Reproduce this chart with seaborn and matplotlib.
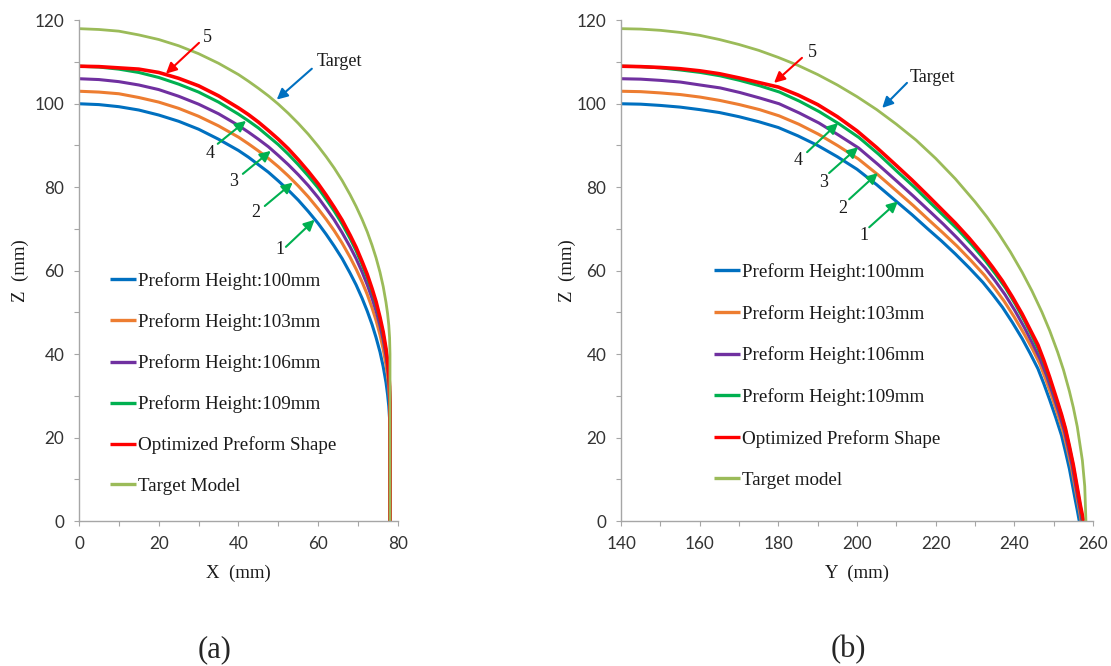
import numpy as np
import pandas as pd
import matplotlib
matplotlib.use("Agg")
import matplotlib.pyplot as plt
from matplotlib.ticker import MultipleLocator
import seaborn as sns

# ---------- panel (a): X-Z profile ----------
x_a = [0, 5, 10, 15, 20, 25, 30, 35, 40, 42.5, 45, 47.5, 50, 52.5, 55, 57.5, 60, 62, 64, 66,
       68, 69.5, 71, 72.3, 73.5, 74.5, 75.5, 76.3, 77, 77.4, 77.7, 77.9, 78, 78]
z_a_100 = [100.0, 99.8, 99.3, 98.5, 97.3, 95.8, 93.9, 91.5, 88.8, 87.2, 85.4, 83.6, 81.5, 79.3, 76.9, 74.2,
           71.3, 68.7, 65.9, 62.9, 59.4, 56.6, 53.4, 50.3, 47.1, 44.0, 40.5, 37.0, 33.2, 30.3, 27.5, 24.5, 20.5, 0]
z_a_103 = [103.0, 102.8, 102.4, 101.5, 100.4, 98.9, 97.0, 94.7, 92.0, 90.4, 88.7, 86.9, 84.9, 82.7, 80.3, 77.7,
           74.8, 72.3, 69.6, 66.6, 63.2, 60.4, 57.3, 54.3, 51.1, 48.1, 44.6, 41.2, 37.4, 34.7, 31.8, 29.0, 25.0, 0]
z_a_106 = [106.0, 105.8, 105.3, 104.5, 103.4, 101.8, 99.9, 97.6, 94.8, 93.2, 91.5, 89.7, 87.6, 85.4, 83.0, 80.4,
           77.5, 74.9, 72.2, 69.1, 65.7, 62.9, 59.7, 56.6, 53.4, 50.4, 46.8, 43.4, 39.6, 36.8, 33.9, 31.0, 27.0, 0]
z_a_109 = [109.0, 108.8, 108.3, 107.5, 106.3, 104.7, 102.8, 100.4, 97.5, 95.9, 94.2, 92.2, 90.2, 87.9, 85.4, 82.7,
           79.8, 77.1, 74.3, 71.2, 67.7, 64.8, 61.5, 58.4, 55.1, 52.0, 48.3, 44.8, 40.9, 38.0, 35.1, 32.1, 28.0, 0]
z_a_opt = [109.0, 108.9, 108.6, 108.3, 107.5, 106.1, 104.3, 101.9, 99.0, 97.4, 95.6, 93.6, 91.5, 89.2, 86.6, 83.8,
           80.8, 78.1, 75.2, 72.1, 68.5, 65.6, 62.2, 59.1, 55.7, 52.6, 48.8, 45.3, 41.3, 38.4, 35.4, 32.3, 28.5, 0]
z_a_target = [118.0, 117.8, 117.4, 116.5, 115.4, 113.9, 112.0, 109.7, 107.0, 105.4, 103.7, 101.9, 99.9, 97.7, 95.3, 92.7,
              89.8, 87.3, 84.6, 81.6, 78.2, 75.4, 72.3, 69.3, 66.1, 63.1, 59.6, 56.2, 52.4, 49.7, 46.9, 43.9, 40.0, 0]

# ---------- panel (b): Y-Z profile ----------
y_b_100 = [140, 145, 150, 155, 160, 165, 170, 175, 180, 185, 190, 195, 200, 205, 210, 214, 218, 221.5, 225,
           228.5, 232, 234.5, 237, 239.5, 242, 244, 246, 247.5, 249, 250.5, 252, 253, 254, 254.8, 255.5, 256, 256.5]
z_b_100 = [100.0, 99.9, 99.6, 99.2, 98.6, 97.9, 96.9, 95.7, 94.3, 92.3, 90.0, 87.3, 84.3, 80.6, 76.6, 73.4, 70.0,
           67.1, 64.0, 60.7, 57.2, 54.3, 51.2, 47.6, 43.7, 40.2, 36.5, 32.9, 29.0, 24.9, 20.5, 16.6, 12.5, 8.5, 5.0, 2.6, 0]
y_b_103 = [140, 145.0, 150.0, 155.1, 160.1, 165.1, 170.1, 175.2, 180.2, 185.2, 190.2, 195.2, 200.3, 205.3, 210.3,
           214.3, 218.3, 221.8, 225.4, 228.9, 232.4, 234.9, 237.4, 239.9, 242.4, 244.5, 246.5, 248.0, 249.5, 251.0,
           252.5, 253.5, 254.5, 255.3, 256.0, 256.5, 257.0]
z_b_103 = [103.0, 102.9, 102.6, 102.2, 101.6, 100.8, 99.8, 98.6, 97.1, 95.1, 92.7, 89.9, 86.8, 83.0, 78.9, 75.6,
           72.1, 69.1, 65.9, 62.5, 58.9, 55.9, 52.7, 49.0, 45.0, 41.4, 37.6, 33.9, 29.9, 25.6, 21.1, 17.1, 12.9, 8.8,
           5.2, 2.7, 0]
y_b_106 = [140, 145.0, 150.1, 155.1, 160.1, 165.2, 170.2, 175.2, 180.2, 185.3, 190.3, 195.3, 200.4, 205.4, 210.4,
           214.4, 218.5, 222.0, 225.5, 229.0, 232.6, 235.1, 237.6, 240.1, 242.6, 244.6, 246.6, 248.2, 249.7, 251.2,
           252.7, 253.7, 254.7, 255.5, 256.2, 256.7, 257.2]
z_b_106 = [106.0, 105.9, 105.6, 105.2, 104.5, 103.8, 102.7, 101.4, 100.0, 97.8, 95.4, 92.5, 89.4, 85.4, 81.2, 77.8,
           74.2, 71.1, 67.8, 64.3, 60.6, 57.6, 54.3, 50.5, 46.3, 42.6, 38.7, 34.9, 30.7, 26.4, 21.7, 17.6, 13.3, 9.0,
           5.3, 2.8, 0]
y_b_109 = [140, 145.0, 150.1, 155.1, 160.2, 165.2, 170.2, 175.3, 180.3, 185.4, 190.4, 195.4, 200.5, 205.5, 210.5,
           214.6, 218.6, 222.1, 225.7, 229.2, 232.7, 235.2, 237.8, 240.3, 242.8, 244.8, 246.8, 248.3, 249.8, 251.4,
           252.9, 253.9, 254.9, 255.7, 256.4, 256.9, 257.4]
z_b_109 = [109.0, 108.9, 108.6, 108.1, 107.5, 106.7, 105.6, 104.3, 102.8, 100.6, 98.1, 95.2, 91.9, 87.9, 83.5, 80.0,
           76.3, 73.1, 69.8, 66.2, 62.3, 59.2, 55.8, 51.9, 47.6, 43.8, 39.8, 35.9, 31.6, 27.1, 22.3, 18.1, 13.6, 9.3,
           5.5, 2.8, 0]
y_b_opt = [140, 145, 150, 155, 160, 165, 170, 175, 180, 185, 190, 195, 200, 205, 210, 214, 218, 221.5, 225,
           228.5, 232, 234.5, 237, 239.5, 242, 244, 246, 247.5, 249, 250.5, 252, 253, 254, 255, 256, 256.8, 257.6]
z_b_opt = [109.0, 108.9, 108.7, 108.4, 107.9, 107.2, 106.2, 105.1, 104.0, 102.1, 99.8, 96.9, 93.5, 89.5, 85.2, 81.7,
           78.0, 74.7, 71.4, 67.8, 63.9, 60.8, 57.5, 53.7, 49.6, 45.9, 42.2, 38.5, 34.4, 30.0, 25.5, 22.1, 17.9, 13.4,
           8.0, 3.7, 0]
y_b_target = [140, 145, 150, 155, 160, 165, 170, 175, 180, 185, 190, 195, 200, 205, 210, 215, 220, 225, 230, 233,
              236, 239, 242, 244.5, 247, 249, 251, 252.5, 254, 255, 256, 257.3, 257.9, 258.2]
z_b_target = [118.0, 117.9, 117.6, 117.1, 116.4, 115.4, 114.2, 112.8, 111.1, 109.2, 107.0, 104.5, 101.7, 98.6, 95.1,
              91.3, 86.9, 82.0, 76.5, 72.9, 68.9, 64.5, 59.6, 55.1, 50.1, 45.6, 40.5, 36.2, 31.1, 27.2, 22.6, 14.5,
              8.3, 0]

names = ["Preform Height:100mm", "Preform Height:103mm", "Preform Height:106mm",
         "Preform Height:109mm", "Optimized Preform Shape"]
labels_a = names + ["Target Model"]
labels_b = names + ["Target model"]
colors = ["#0070C0", "#ED7D31", "#7030A0", "#00B050", "#FF0000", "#9BBB59"]
widths = [2.2, 2.2, 2.2, 2.2, 2.6, 2.0]

series_a = [(x_a, z_a_100), (x_a, z_a_103), (x_a, z_a_106), (x_a, z_a_109), (x_a, z_a_opt), (x_a, z_a_target)]
series_b = [(y_b_100, z_b_100), (y_b_103, z_b_103), (y_b_106, z_b_106),
            (y_b_109, z_b_109), (y_b_opt, z_b_opt), (y_b_target, z_b_target)]

# annotation arrows: (text, arrow tip, arrow tail, text position, colour)
arrows_a = [
    ("5", (21.8, 107.2), (30.1, 114.6), (32.3, 115.8), "#FF0000"),
    ("Target", (49.6, 101.0), (58.4, 108.4), (65.2, 110.1), "#0070C0"),
    ("4", (41.9, 95.9), (34.8, 90.4), (32.8, 88.0), "#00B050"),
    ("3", (48.1, 88.7), (41.1, 83.2), (38.8, 81.3), "#00B050"),
    ("2", (53.6, 81.1), (46.6, 75.5), (44.4, 73.9), "#00B050"),
    ("1", (59.1, 72.2), (51.9, 65.7), (50.4, 65.0), "#00B050"),
]
arrows_b = [
    ("5", (178.9, 105.0), (186.0, 111.0), (188.6, 112.2), "#FF0000"),
    ("Target", (206.4, 99.0), (212.7, 105.0), (219.1, 106.4), "#0070C0"),
    ("4", (195.2, 95.4), (187.3, 88.4), (185.0, 86.5), "#00B050"),
    ("3", (200.3, 89.6), (192.9, 83.4), (191.4, 81.2), "#00B050"),
    ("2", (205.3, 83.4), (198.0, 77.1), (196.4, 75.0), "#00B050"),
    ("1", (210.4, 76.6), (203.1, 70.4), (201.8, 68.5), "#00B050"),
]

sns.set_theme(style="white")
plt.rcParams["font.family"] = ["Liberation Serif", "DejaVu Serif"]
serif = "Liberation Serif"

fig = plt.figure(figsize=(11.11, 6.66), dpi=100)
ax_a = fig.add_axes([0.0711, 0.2177, 0.2871, 0.7518])
ax_b = fig.add_axes([0.559, 0.2177, 0.4248, 0.7518])


def draw_panel(ax, series, labels, arrows, xlim, xlabel, leg_anchor, spacing):
    for (xs, zs), lab, col, lw in zip(series, labels, colors, widths):
        df = pd.DataFrame({"x": xs, "z": zs})
        sns.lineplot(data=df, x="x", y="z", ax=ax, color=col, lw=lw,
                     label=lab, sort=False, estimator=None,
                     solid_joinstyle="round", solid_capstyle="butt")

    ax.set_xlim(*xlim)
    ax.set_ylim(0, 120)
    ax.xaxis.set_major_locator(MultipleLocator(20))
    ax.xaxis.set_minor_locator(MultipleLocator(10))
    ax.yaxis.set_major_locator(MultipleLocator(20))
    ax.yaxis.set_minor_locator(MultipleLocator(10))
    ax.tick_params(which="both", direction="out", length=3.6, width=0.8,
                   color="#A6A6A6", bottom=True, left=True)
    ax.tick_params(which="major", labelsize=12.3, labelcolor="#333333",
                   labelfontfamily="Lato", pad=7)
    for side in ["top", "right"]:
        ax.spines[side].set_visible(False)
    for side in ["left", "bottom"]:
        ax.spines[side].set_color("#A6A6A6")
        ax.spines[side].set_linewidth(1.0)

    ax.set_xlabel(xlabel, fontsize=13.5, family=serif, color="#1a1a1a")
    ax.set_ylabel("Z  (mm)", fontsize=13.5, family=serif, color="#1a1a1a")

    for txt, tip, tail, pos, col in arrows:
        ax.annotate("", xy=tip, xytext=tail,
                    arrowprops=dict(arrowstyle="-|>", color=col, lw=1.5,
                                    mutation_scale=16, shrinkA=0, shrinkB=0))
        ax.text(pos[0], pos[1], txt, ha="center", va="center",
                fontsize=13, family=serif, color="#1a1a1a")

    leg = ax.legend(loc="upper left", bbox_to_anchor=leg_anchor, frameon=False,
                    prop=dict(family=serif, size=13.7), handlelength=1.37,
                    handletextpad=0.12, labelspacing=spacing, borderpad=0,
                    borderaxespad=0)
    for line in leg.get_lines():
        line.set_linewidth(2.4)
    for t in leg.get_texts():
        t.set_color("#1a1a1a")


draw_panel(ax_a, series_a, labels_a, arrows_a, (0, 80), "X  (mm)", (0.097, 0.497), 1.22)
draw_panel(ax_b, series_b, labels_b, arrows_b, (140, 260), "Y  (mm)", (0.197, 0.515), 1.25)

ax_a.xaxis.set_label_coords(0.5, -0.104)
ax_b.xaxis.set_label_coords(0.5, -0.104)
ax_a.yaxis.set_label_coords(-0.185, 0.5)
ax_b.yaxis.set_label_coords(-0.114, 0.5)
for ax in (ax_a, ax_b):
    ax.xaxis.label.set_va("center")
    ax.yaxis.label.set_va("center")

fig.text(215 / 1111, 1 - 650 / 666, "(a)", ha="center", va="center", fontsize=22, family=serif)
fig.text(848 / 1111, 1 - 650 / 666, "(b)", ha="center", va="center", fontsize=22, family=serif)

fig.savefig("out.png", dpi=100, facecolor="white")
